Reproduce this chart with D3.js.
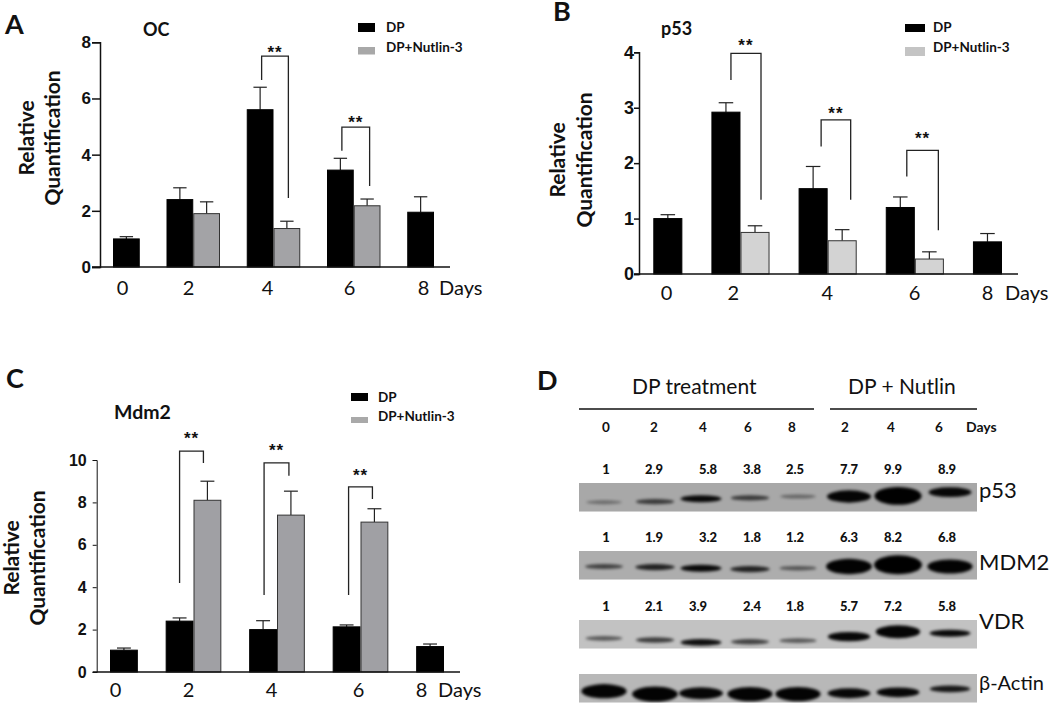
<!DOCTYPE html>
<html>
<head>
<meta charset="utf-8">
<script src="https://cdn.jsdelivr.net/npm/d3@7"></script>
<style>
  body { margin: 0; background: #fff; }
  svg { display: block; }
  text { font-family: Lato, sans-serif; fill: #111; }
</style>
</head>
<body>
<div id="chart"></div>
<script>
const days = [0, 2, 4, 6, 8];
const seriesNames = ['DP', 'DP+Nutlin-3'];

// panel A - OC
const ocDp = [1, 2.4, 5.6, 3.45, 1.95];
const ocDpTop = [1.08, 2.82, 6.4, 3.87, 2.5];
const ocNut = [null, 1.9, 1.37, 2.18, null];
const ocNutTop = [null, 2.32, 1.63, 2.42, null];
const ocBrackets = [
  { day: 4, left: 6.66, top: 7.51, right: 2.46 },
  { day: 6, left: 4.14, top: 4.98, right: 2.88 },
];

// panel B - p53
const p53Dp = [1, 2.92, 1.54, 1.2, 0.58];
const p53DpTop = [1.07, 3.09, 1.94, 1.39, 0.73];
const p53Nut = [null, 0.75, 0.6, 0.27, null];
const p53NutTop = [null, 0.87, 0.8, 0.4, null];
const p53Brackets = [
  { day: 2, left: 3.5, top: 3.98, right: 1.34 },
  { day: 4, left: 2.3, top: 2.78, right: 1.34 },
  { day: 6, left: 1.76, top: 2.23, right: 0.79 },
];

// panel C - Mdm2
const mdmDp = [1.03, 2.4, 2.0, 2.13, 1.2];
const mdmDpTop = [1.13, 2.55, 2.42, 2.22, 1.32];
const mdmNut = [null, 8.1, 7.4, 7.07, null];
const mdmNutTop = [null, 9.0, 8.53, 7.7, null];
const mdmBrackets = [
  { day: 2, left: 4.2, top: 10.42, right: 9.86 },
  { day: 4, left: 3.63, top: 9.86, right: 9.26 },
  { day: 6, left: 3.63, top: 8.73, right: 8.16 },
];

// panel D - western blot
const laneNames = ['DP 0', 'DP 2', 'DP 4', 'DP 6', 'DP 8', 'Nutlin 2', 'Nutlin 4', 'Nutlin 6'];
const laneDays = ['0', '2', '4', '6', '8', '2', '4', '6'];
const blotNames = ['p53', 'MDM2', 'VDR', 'β-Actin'];
const p53Quant = ['1', '2.9', '5.8', '3.8', '2.5', '7.7', '9.9', '8.9'];
const mdm2Quant = ['1', '1.9', '3.2', '1.8', '1.2', '6.3', '8.2', '6.8'];
const vdrQuant = ['1', '2.1', '3.9', '2.4', '1.8', '5.7', '7.2', '5.8'];
// band strength (0-1) and how far down the strip the band sits (0-1)
const p53Signal = [0.1, 0.3, 0.5, 0.3, 0.12, 0.72, 0.95, 0.62];
const p53Migration = [0.67, 0.65, 0.55, 0.52, 0.47, 0.47, 0.45, 0.32];
const mdm2Signal = [0.28, 0.4, 0.5, 0.4, 0.2, 0.85, 1, 0.8];
const mdm2Migration = [0.54, 0.56, 0.6, 0.63, 0.6, 0.54, 0.48, 0.54];
const vdrSignal = [0.22, 0.32, 0.48, 0.3, 0.22, 0.6, 0.75, 0.5];
const vdrMigration = [0.64, 0.7, 0.78, 0.76, 0.72, 0.58, 0.41, 0.46];
const actinSignal = [0.8, 0.85, 0.7, 0.8, 0.8, 0.62, 0.62, 0.45];
const actinMigration = [0.6, 0.7, 0.67, 0.7, 0.7, 0.67, 0.64, 0.52];

const svg = d3.select('#chart').append('svg').attr('width', 1050).attr('height', 705);

// soft edges for the blot bands
svg.append('defs').append('filter').attr('id', 'blur')
  .attr('x', '-20%').attr('y', '-60%').attr('width', '140%').attr('height', '220%')
  .append('feGaussianBlur').attr('stdDeviation', 1.6);

function renderBarPanel(p) {
  const g = svg.append('g');

  const slots = [];
  days.forEach((d, i) => {
    slots.push(`${d}-dp`);
    if (p.nut[i] != null) slots.push(`${d}-nut`);
    if (i < days.length - 1) slots.push(`${d}-gap`);
  });
  const xScale = d3.scaleBand().domain(slots).range(p.barRange);
  const yScale = d3.scaleLinear().domain([0, p.yMax]).range([p.bottom, p.top]);
  const w = xScale.bandwidth();

  const bars = [];
  days.forEach((d, i) => {
    bars.push({ key: `${d}-dp`, v: p.dp[i], hi: p.dpTop[i], fill: '#000' });
    if (p.nut[i] != null) bars.push({ key: `${d}-nut`, v: p.nut[i], hi: p.nutTop[i], fill: p.grey });
  });

  // error bars first so the bars sit on top
  const err = g.append('g').attr('stroke', '#222').attr('stroke-width', 1.2);
  err.selectAll('line.stem').data(bars).join('line').attr('class', 'stem')
    .attr('x1', (d) => xScale(d.key) + w / 2)
    .attr('x2', (d) => xScale(d.key) + w / 2)
    .attr('y1', (d) => yScale(d.v))
    .attr('y2', (d) => yScale(d.hi));
  err.selectAll('line.cap').data(bars).join('line').attr('class', 'cap')
    .attr('x1', (d) => xScale(d.key) + w / 4)
    .attr('x2', (d) => xScale(d.key) + w * 3 / 4)
    .attr('y1', (d) => yScale(d.hi))
    .attr('y2', (d) => yScale(d.hi));

  g.append('g').selectAll('rect').data(bars).join('rect')
    .attr('x', (d) => xScale(d.key) + 0.5)
    .attr('y', (d) => yScale(d.v))
    .attr('width', w - 1)
    .attr('height', (d) => yScale(0) - yScale(d.v))
    .attr('fill', (d) => d.fill)
    .attr('stroke', (d) => (d.fill === '#000' ? '#000' : '#333'))
    .attr('stroke-width', 1);

  // axes
  const yAxis = d3.axisLeft(yScale).tickValues(p.yTicks).tickFormat(d3.format('d'))
    .tickSize(p.tickLen).tickPadding(p.tickPad);
  const yG = g.append('g').attr('transform', `translate(${p.axisX},0)`).call(yAxis);
  yG.selectAll('line,path').attr('stroke', '#111').attr('stroke-width', p.axisWidth);
  yG.selectAll('text').style('font-family', 'Liberation Sans').style('font-weight', 700)
    .style('font-size', p.yFont + 'px').attr('fill', '#111');

  const dayScale = d3.scaleOrdinal().domain(days).range(p.dayX);
  const xAxis = d3.axisBottom(dayScale).tickSize(0).tickPadding(p.dayPad);
  const xG = g.append('g').attr('transform', `translate(0,${p.bottom})`).call(xAxis);
  xG.select('path').remove();
  xG.selectAll('text').style('font-family', 'Lato').style('font-size', '20px').attr('fill', '#111');
  g.append('line')
    .attr('x1', p.axisX - p.tickLen).attr('x2', p.axisEnd)
    .attr('y1', p.bottom).attr('y2', p.bottom)
    .attr('stroke', '#111').attr('stroke-width', 1.6);
  g.append('text').attr('x', p.daysLabel[0]).attr('y', p.daysLabel[1])
    .attr('font-size', 20).text('Days');

  // significance brackets
  p.brackets.forEach((b, i) => {
    const [dl, dr, starDy] = p.bracketNudge[i];
    const xl = xScale(`${b.day}-dp`) + w / 2 + dl;
    const xr = xScale(`${b.day}-nut`) + w / 2 + dr;
    const path = d3.path();
    path.moveTo(xl, yScale(b.left));
    path.lineTo(xl, yScale(b.top));
    path.lineTo(xr, yScale(b.top));
    path.lineTo(xr, yScale(b.right));
    g.append('path').attr('d', path.toString()).attr('fill', 'none')
      .attr('stroke', '#222').attr('stroke-width', 1.3);
    g.append('text').attr('x', (xl + xr) / 2).attr('y', yScale(b.top) + starDy + 2)
      .attr('text-anchor', 'middle').style('font-family', 'Liberation Sans')
      .style('letter-spacing', '1px')
      .attr('font-weight', 700).attr('font-size', 17).text('**');
  });

  // y title, two lines
  ['Relative', 'Quantification'].forEach((t, i) => {
    g.append('text')
      .attr('transform', `translate(${p.titleX[i]},${p.titleY}) rotate(-90)`)
      .attr('text-anchor', 'middle').attr('font-weight', 700).attr('font-size', 21).text(t);
  });

  g.append('text').attr('x', p.name[0]).attr('y', p.name[1])
    .attr('font-weight', 700).attr('font-size', p.nameSize).text(p.label);
  g.append('text').attr('x', p.letter[0]).attr('y', p.letter[1])
    .attr('font-weight', 700).attr('font-size', 27).attr('fill', '#000').text(p.panel);

  // legend
  seriesNames.forEach((s, i) => {
    g.append('rect').attr('x', p.legendX).attr('y', p.legendY[i])
      .attr('width', p.legendW).attr('height', p.legendH[i])
      .attr('fill', i === 0 ? '#000' : p.legendGrey);
    g.append('text').attr('x', p.legendTextX).attr('y', p.legendTextY[i])
      .attr('font-weight', 700).attr('font-size', 13.5).text(s);
  });
}

renderBarPanel({
  panel: 'A', label: 'OC', letter: [5, 34], name: [143, 36], nameSize: 18,
  dp: ocDp, dpTop: ocDpTop, nut: ocNut, nutTop: ocNutTop, brackets: ocBrackets,
  bracketNudge: [[1.5, 1.5, 0], [1.5, 2.5, -1]],
  yMax: 8, yTicks: [0, 2, 4, 6, 8], top: 42.3, bottom: 267, axisX: 100, axisEnd: 450,
  barRange: [113, 434], grey: '#a3a3a6', legendGrey: '#a8a8a8',
  tickLen: 8, tickPad: 1, axisWidth: 1.5, yFont: 17,
  dayX: [122, 188, 267, 349, 423], dayPad: 14, daysLabel: [439, 295],
  titleX: [34, 60], titleY: 138,
  legendX: 358, legendY: [23, 47], legendW: 17, legendH: [9, 7.5],
  legendTextX: 386, legendTextY: [32, 52],
});

renderBarPanel({
  panel: 'B', label: 'p53', letter: [553, 21], name: [661, 35], nameSize: 18,
  dp: p53Dp, dpTop: p53DpTop, nut: p53Nut, nutTop: p53NutTop, brackets: p53Brackets,
  bracketNudge: [[5, 6, -4], [8, 8.5, -3], [6.5, 9, -8]],
  yMax: 4, yTicks: [0, 1, 2, 3, 4], top: 52.3, bottom: 274, axisX: 639, axisEnd: 1018,
  barRange: [653.3, 1002], grey: '#d3d3d3', legendGrey: '#c4c4c4',
  tickLen: 5, tickPad: 0, axisWidth: 1.5, yFont: 18,
  dayX: [666, 732.7, 826.7, 914, 987], dayPad: 12, daysLabel: [1005, 300],
  titleX: [565, 592], titleY: 160,
  legendX: 905, legendY: [24, 47], legendW: 20, legendH: [8, 9],
  legendTextX: 933, legendTextY: [32, 52],
});

renderBarPanel({
  panel: 'C', label: 'Mdm2', letter: [6, 388], name: [114, 419], nameSize: 19.5,
  dp: mdmDp, dpTop: mdmDpTop, nut: mdmNut, nutTop: mdmNutTop, brackets: mdmBrackets,
  bracketNudge: [[0, -4, -9], [1, -2, -9], [2, -2, -8]],
  yMax: 10, yTicks: [0, 2, 4, 6, 8, 10], top: 460, bottom: 672, axisX: 96.7, axisEnd: 460,
  barRange: [110, 444], grey: '#a0a0a4', legendGrey: '#a9a9a9',
  tickLen: 4, tickPad: 6, axisWidth: 1, yFont: 16,
  dayX: [115, 188, 271, 358, 421], dayPad: 11, daysLabel: [438, 697],
  titleX: [19, 45], titleY: 558,
  legendX: 351, legendY: [393, 417], legendW: 17, legendH: [8, 6],
  legendTextX: 378, legendTextY: [402, 421],
});

function renderBlotPanel() {
  const g = svg.append('g');
  g.append('text').attr('x', 537).attr('y', 390).attr('font-weight', 700)
    .attr('font-size', 27).attr('fill', '#000').text('D');

  // group headers
  [['DP treatment', 632, 579, 814], ['DP + Nutlin', 848, 830, 977]].forEach(([t, tx, x1, x2]) => {
    g.append('text').attr('x', tx).attr('y', 394).attr('font-size', 21).text(t);
    g.append('line').attr('x1', x1).attr('x2', x2).attr('y1', 409).attr('y2', 409)
      .attr('stroke', '#111').attr('stroke-width', 1.6);
  });

  const dayX = d3.scaleOrdinal().domain(laneNames).range([606, 654, 703, 748, 792, 845, 891, 939]);
  g.selectAll('text.day').data(laneNames).join('text').attr('class', 'day')
    .attr('x', (d) => dayX(d)).attr('y', 432).attr('text-anchor', 'middle')
    .attr('font-weight', 700).attr('font-size', 13.5).text((d, i) => laneDays[i]);
  g.append('text').attr('x', 966).attr('y', 432).attr('font-weight', 700)
    .attr('font-size', 14).text('Days');

  // densitometry numbers over each strip
  const quantRows = [
    { vals: p53Quant, y: 474, x: [606, 654, 708, 752, 795, 849, 893, 947] },
    { vals: mdm2Quant, y: 542, x: [606, 654, 708, 752, 795, 849, 893, 947] },
    { vals: vdrQuant, y: 611, x: [606, 654, 698, 752, 795, 849, 893, 947] },
  ];
  quantRows.forEach((r) => {
    g.append('g').selectAll('text').data(r.vals).join('text')
      .attr('x', (d, i) => r.x[i]).attr('y', r.y).attr('text-anchor', 'middle')
      .attr('font-weight', 900).attr('font-size', 13).text((d) => d);
  });

  // blot strips
  const laneX = d3.scaleOrdinal().domain(laneNames).range([604, 655, 701, 750, 798, 849, 898, 950]);
  const bandRx = d3.scaleLinear().domain([0, 1]).range([17, 24]);
  const bandRy = d3.scaleLinear().domain([0, 0.5, 1]).range([1.5, 3.5, 9.5]);
  const bandDark = d3.scaleLinear().domain([0, 0.5, 1]).range([0.22, 0.95, 1]);

  const strips = [
    { name: blotNames[0], signal: p53Signal, mig: p53Migration, top: 483, bg: '#a8a8a8', label: [979, 498, 22] },
    { name: blotNames[1], signal: mdm2Signal, mig: mdm2Migration, top: 551, bg: '#adadad', label: [979, 570, 22] },
    { name: blotNames[2], signal: vdrSignal, mig: vdrMigration, top: 620, bg: '#c2c2c2', label: [979, 629, 22] },
    { name: blotNames[3], signal: actinSignal, mig: actinMigration, top: 674, bg: '#b8b8b8', label: [979, 690, 20] },
  ];
  strips.forEach((s) => {
    const yBand = d3.scaleLinear().domain([0, 1]).range([s.top, s.top + 28.7]);
    const clip = 'clip-' + s.top;
    svg.select('defs').append('clipPath').attr('id', clip).append('rect')
      .attr('x', 579).attr('y', s.top).attr('width', 398).attr('height', 28.7);
    const strip = g.append('g').attr('clip-path', `url(#${clip})`);
    strip.append('rect').attr('x', 579).attr('y', s.top).attr('width', 398).attr('height', 28.7)
      .attr('fill', s.bg);
    strip.selectAll('ellipse').data(laneNames).join('ellipse')
      .attr('cx', (d) => laneX(d))
      .attr('cy', (d, i) => yBand(s.mig[i]))
      .attr('rx', (d, i) => bandRx(s.signal[i]))
      .attr('ry', (d, i) => bandRy(s.signal[i]))
      .attr('fill', '#000')
      .attr('fill-opacity', (d, i) => bandDark(s.signal[i]))
      .attr('filter', 'url(#blur)');
    g.append('text').attr('x', s.label[0]).attr('y', s.label[1])
      .attr('font-size', s.label[2]).text(s.name);
  });
}

renderBlotPanel();
</script>
</body>
</html>
